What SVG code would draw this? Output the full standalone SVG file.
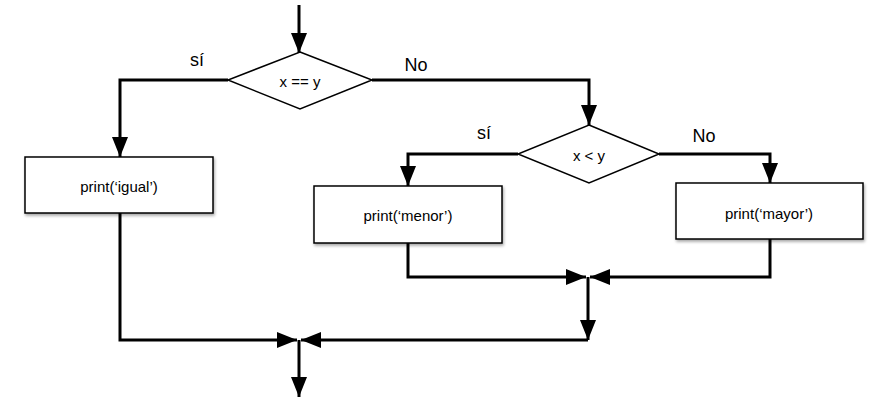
<svg xmlns="http://www.w3.org/2000/svg" width="875" height="404" viewBox="0 0 875 404">
<style>
.shape{fill:#fff;stroke:#000;stroke-width:1.5}
.conn{fill:none;stroke:#000;stroke-width:3;stroke-linejoin:miter}
.t{font-family:"Liberation Sans",Arial,sans-serif;font-size:15px;text-anchor:middle;dominant-baseline:central;fill:#000}
.lbl{font-family:"Liberation Sans",Arial,sans-serif;font-size:18px;text-anchor:middle;fill:#000}
</style>
<defs>
<marker id="ah" markerUnits="userSpaceOnUse" markerWidth="20" markerHeight="16" refX="20" refY="8" orient="auto">
<path d="M0,0 L20,8 L0,16 z" fill="#000"/>
</marker>
<filter id="sh" x="-10%" y="-10%" width="125%" height="135%">
<feDropShadow dx="1" dy="2" stdDeviation="1.5" flood-color="#000" flood-opacity="0.35"/>
</filter>
</defs>
<g id="connectors">
<path class="conn" d="M299,5 L299,53" marker-end="url(#ah)"/>
<path class="conn" d="M228,80 L120,80 L120,157" marker-end="url(#ah)"/>
<path class="conn" d="M372,80 L589,80 L589,125" marker-end="url(#ah)"/>
<path class="conn" d="M518,154 L408,154 L408,186" marker-end="url(#ah)"/>
<path class="conn" d="M659,154 L770,154 L770,183" marker-end="url(#ah)"/>
<path class="conn" d="M408,243 L408,277 L586,277" marker-end="url(#ah)"/>
<path class="conn" d="M770,239 L770,277 L590,277" marker-end="url(#ah)"/>
<path class="conn" d="M588,277 L588,340" marker-end="url(#ah)"/>
<path class="conn" d="M120,213 L120,340 L297,340" marker-end="url(#ah)"/>
<path class="conn" d="M588,340 L301,340" marker-end="url(#ah)"/>
<path class="conn" d="M299,340 L299,397" marker-end="url(#ah)"/>
<text class="lbl" x="197" y="66">sí</text>
<text class="lbl" x="416" y="71">No</text>
<text class="lbl" x="484" y="139">sí</text>
<text class="lbl" x="704" y="142">No</text>
</g>
<g id="dec1">
<polygon class="shape" points="300,52 372,80 300,109 228,80"/>
<text class="t" x="300" y="81">x == y</text>
</g>
<g id="dec2">
<polygon class="shape" points="589,125 659,154 589,183 518,154"/>
<text class="t" x="589" y="155">x &lt; y</text>
</g>
<g id="igual">
<rect class="shape" x="25" y="157" width="188" height="56" filter="url(#sh)"/>
<text class="t" x="119" y="186">print(‘igual’)</text>
</g>
<g id="menor">
<rect class="shape" x="314" y="186" width="188" height="57" filter="url(#sh)"/>
<text class="t" x="408" y="215">print(‘menor’)</text>
</g>
<g id="mayor">
<rect class="shape" x="676" y="183" width="187" height="56" filter="url(#sh)"/>
<text class="t" x="769" y="213">print(‘mayor’)</text>
</g>
</svg>
